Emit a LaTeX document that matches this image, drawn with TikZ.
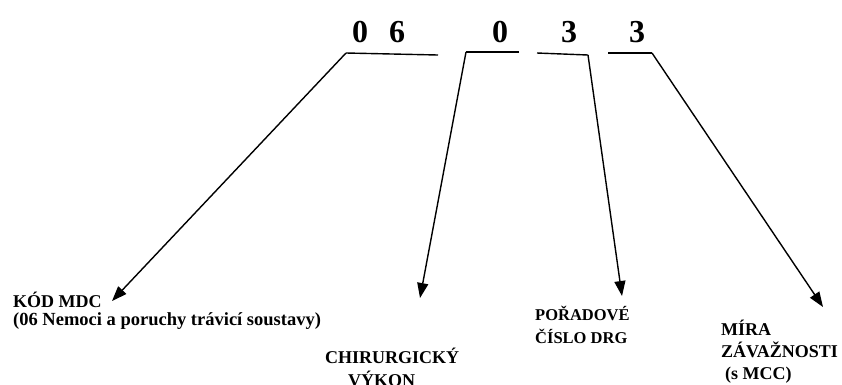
\documentclass[tikz,border=0pt]{standalone}
\usepackage{fontspec}
\setmainfont{Liberation Serif}
\usetikzlibrary{arrows.meta}
\begin{document}
\begin{tikzpicture}[x=1pt,y=-1pt,
  digit/.style={font=\bfseries\fontsize{32}{32}\selectfont, inner sep=0pt, anchor=base},
  lbl/.style={font=\bfseries\fontsize{18}{18}\selectfont, inner sep=0pt, anchor=base west},
  lblsm/.style={font=\bfseries\fontsize{16.5}{16.5}\selectfont, inner sep=0pt, anchor=base west},
  lblwide/.style={font=\bfseries\fontsize{18.5}{18.5}\selectfont, inner sep=0pt, anchor=base west},
  conn/.style={line width=1.4pt, -{Triangle[length=15pt,width=11pt]}},
  bar/.style={line width=1.4pt}]
\useasboundingbox (0,0) rectangle (842,384);
\fill[white] (0,0) rectangle (842,384);
% digits
\node[digit] (d1) at (360,42) {0};
\node[digit] (d2) at (397,42) {6};
\node[digit] (d3) at (500,42) {0};
\node[digit] (d4) at (569,42) {3};
\node[digit] (d5) at (637,42) {3};
% bracket corners
\coordinate (a1) at (438,55);
\coordinate (b1) at (346,53);
\coordinate (a2) at (519,52);
\coordinate (b2) at (466,52);
\coordinate (a3) at (537,53);
\coordinate (b3) at (588,55);
\coordinate (a4) at (608,53);
\coordinate (b4) at (652,53);
% arrow tips
\coordinate (t1) at (112,301);
\coordinate (t2) at (420,298);
\coordinate (t3) at (622,296);
\coordinate (t4) at (823,307);
% labels
\node[lbl] (kod) at (13,307) {KÓD MDC};
\node[lblwide] (kod2) at (13,325) {(06 Nemoci a poruchy trávicí soustavy)};
\node[lbl] (chir) at (325,363) {CHIRURGICKÝ};
\node[lbl] (vyk) at (348,386) {VÝKON};
\node[lblsm] (por) at (535,320) {POŘADOVÉ};
\node[lblsm] (cis) at (535,343) {ČÍSLO DRG};
\node[lbl] (mira) at (721,335) {MÍRA};
\node[lbl] (zav) at (721,357) {ZÁVAŽNOSTI};
\node[lbl] (mcc) at (725,379) {(s MCC)};
% connectors
\draw[bar] (a1) -- (b1);
\draw[conn] (b1) -- (t1);
\draw[bar] (a2) -- (b2);
\draw[conn] (b2) -- (t2);
\draw[bar] (a3) -- (b3);
\draw[conn] (b3) -- (t3);
\draw[bar] (a4) -- (b4);
\draw[conn] (b4) -- (t4);
\end{tikzpicture}
\end{document}
